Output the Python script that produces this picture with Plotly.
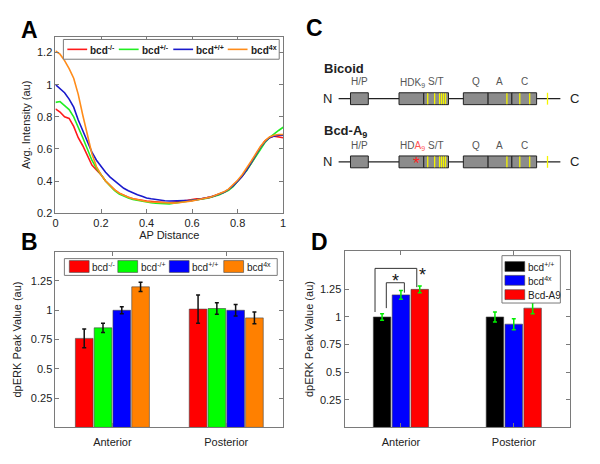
import plotly.graph_objects as go

FONT = "Liberation Sans, Arial, sans-serif"
W, H = 600, 464

# ---- Panel A: average intensity profiles along AP axis ----
ap = [i / 50 for i in range(51)]
prof_red = [0.85, 0.83, 0.80, 0.79, 0.74, 0.67, 0.62, 0.56, 0.50, 0.47, 0.44, 0.40, 0.37, 0.345, 0.325, 0.31, 0.30,
            0.29, 0.283, 0.28, 0.275, 0.272, 0.27, 0.268, 0.266, 0.265, 0.268, 0.27, 0.274, 0.28, 0.285, 0.29, 0.29,
            0.295, 0.30, 0.31, 0.318, 0.33, 0.345, 0.37, 0.40, 0.43, 0.47, 0.51, 0.56, 0.61, 0.65, 0.67, 0.68, 0.675, 0.67]
prof_green = [0.89, 0.895, 0.87, 0.845, 0.80, 0.74, 0.67, 0.60, 0.53, 0.48, 0.44, 0.40, 0.37, 0.34, 0.32, 0.305, 0.295,
              0.285, 0.28, 0.272, 0.27, 0.265, 0.262, 0.26, 0.26, 0.258, 0.262, 0.265, 0.27, 0.275, 0.28, 0.283, 0.287,
              0.292, 0.298, 0.305, 0.315, 0.328, 0.343, 0.365, 0.40, 0.43, 0.465, 0.51, 0.555, 0.60, 0.64, 0.67, 0.695,
              0.715, 0.735]
prof_blue = [1.0, 0.975, 0.95, 0.91, 0.86, 0.78, 0.71, 0.64, 0.58, 0.53, 0.49, 0.455, 0.425, 0.40, 0.375, 0.355, 0.34,
             0.325, 0.315, 0.305, 0.295, 0.29, 0.285, 0.282, 0.278, 0.276, 0.277, 0.275, 0.276, 0.278, 0.28, 0.284,
             0.288, 0.293, 0.30, 0.308, 0.318, 0.33, 0.348, 0.37, 0.40, 0.43, 0.47, 0.515, 0.56, 0.61, 0.645, 0.67,
             0.68, 0.685, 0.685]
prof_orange = [1.21, 1.19, 1.15, 1.10, 1.04, 0.94, 0.81, 0.68, 0.57, 0.49, 0.44, 0.40, 0.37, 0.345, 0.325, 0.31, 0.30,
               0.29, 0.283, 0.278, 0.273, 0.27, 0.268, 0.265, 0.263, 0.262, 0.263, 0.265, 0.268, 0.272, 0.277, 0.282,
               0.287, 0.293, 0.30, 0.31, 0.32, 0.333, 0.35, 0.375, 0.405, 0.44, 0.48, 0.525, 0.57, 0.615, 0.65, 0.675,
               0.685, 0.69, 0.69]
a_names = ["bcd<sup>-/-</sup>", "bcd<sup>+/-</sup>", "bcd<sup>+/+</sup>", "bcd<sup>4x</sup>"]
a_colors = ["#ff1a1a", "#22ee22", "#1a1acc", "#ff8c1a"]

# ---- Panel B: dpERK peak values ----
regions = ["Anterior", "Posterior"]
b_names = ["bcd<sup>-/-</sup>", "bcd<sup>-/+</sup>", "bcd<sup>+/+</sup>", "bcd<sup>4x</sup>"]
b_colors = ["#ff0000", "#00ff00", "#0000ff", "#ff8000"]
b_vals = [[0.76, 1.01], [0.85, 1.015], [1.0, 1.0], [1.2, 0.935]]
b_err = [[0.08, 0.12], [0.04, 0.05], [0.03, 0.05], [0.04, 0.05]]

# ---- Panel D ----
d_names = ["bcd<sup>+/+</sup>", "bcd<sup>4x</sup>", "Bcd-A9"]
d_colors = ["#000000", "#0000ff", "#ff0000"]
d_vals = [[1.0, 1.0], [1.2, 0.935], [1.25, 1.08]]
d_err = [[0.03, 0.045], [0.04, 0.05], [0.03, 0.05]]

# ---- Panel C: protein domain diagram ----
proteins = ["Bicoid", "Bcd-A<sub>9</sub>"]
dom_start = [351, 400, 425, 465, 490, 514]
dom_end = [369, 425, 450, 490, 514, 539]
dom_labels = ["H/P", "S/T", "Q", "A", "C"]
dom_label_x = [360, 437, 478, 502, 527]
stripes = [429, 436, 441, 443, 445, 447, 509, 522, 532]

fig = go.Figure()

for i in range(4):
    fig.add_trace(go.Scatter(x=ap, y=[prof_red, prof_green, prof_blue, prof_orange][i], mode="lines",
                             name=a_names[i], line=dict(color=a_colors[i], width=1.6),
                             xaxis="x", yaxis="y", showlegend=False))

xpos = [1, 2]
for i in range(4):
    fig.add_trace(go.Bar(x=xpos, y=b_vals[i], name=b_names[i], width=0.155, offset=-0.325 + i * 0.165,
                         marker=dict(color=b_colors[i], line=dict(color="#444", width=0.6)),
                         error_y=dict(type="data", array=b_err[i], color="#111", thickness=1.5, width=2),
                         xaxis="x2", yaxis="y2", showlegend=False))

for i in range(3):
    fig.add_trace(go.Bar(x=xpos, y=d_vals[i], name=d_names[i], width=0.155, offset=-0.245 + i * 0.167,
                         marker=dict(color=d_colors[i], line=dict(color="#444", width=0.6)),
                         error_y=dict(type="data", array=d_err[i], color="#00ee00", thickness=1.5, width=2),
                         xaxis="x3", yaxis="y3", showlegend=False))


def box_axis(**kw):
    d = dict(showline=True, linecolor="#7a7a7a", linewidth=1, mirror="ticks", ticks="inside", ticklen=4,
             tickcolor="#7a7a7a", showgrid=False, zeroline=False, tickfont=dict(size=11, color="#222"))
    d.update(kw)
    return d


def px(x):
    return x / W


def py(y):
    return 1 - y / H


shapes = []
ann = []


def legend_box(x0, x1, y0, y1):
    shapes.append(dict(type="rect", xref="paper", yref="paper", x0=px(x0), x1=px(x1), y0=py(y1), y1=py(y0),
                       fillcolor="white", line=dict(color="#7a7a7a", width=1), layer="above"))


def legend_text(x, y, text, size=10):
    ann.append(dict(x=px(x), y=py(y), xref="paper", yref="paper", text=text, showarrow=False,
                    xanchor="left", yanchor="middle", font=dict(size=size, color="#222")))


# legend A (horizontal, line samples)
legend_box(61, 279, 40, 60)
for i, x0 in enumerate([65, 117, 172, 227]):
    shapes.append(dict(type="line", xref="paper", yref="paper", x0=px(x0), x1=px(x0 + 20), y0=py(50), y1=py(50),
                       line=dict(color=a_colors[i], width=1.6), layer="above"))
    legend_text(x0 + 21, 51, "<b>" + a_names[i] + "</b>", 10)

# legend B (horizontal, bar swatches)
legend_box(62, 277, 262, 279)
for i, x0 in enumerate([67, 116, 168, 223]):
    shapes.append(dict(type="rect", xref="paper", yref="paper", x0=px(x0), x1=px(x0 + 20), y0=py(276), y1=py(264),
                       fillcolor=b_colors[i], line=dict(color="#444", width=0.6), layer="above"))
    legend_text(x0 + 21, 271, b_names[i], 10)

# legend D (vertical, bar swatches)
legend_box(504, 563, 259, 307)
for i, yc in enumerate([270, 284, 298.5]):
    shapes.append(dict(type="rect", xref="paper", yref="paper", x0=px(507), x1=px(527), y0=py(yc + 5),
                       y1=py(yc - 5), fillcolor=d_colors[i], line=dict(color="#444", width=0.6), layer="above"))
    legend_text(528, yc + 0.5, d_names[i], 10)

# brackets for panel D
br_x0 = [0.77, 0.87]
br_x1 = [1.14, 1.03]
br_y0 = [1.045, 1.08]
br_y1 = [1.27, 1.22]
br_top = [1.44, 1.31]
star_x = [1.19, 0.95]
star_y = [1.38, 1.33]
for k in range(2):
    shapes.append(dict(type="path", xref="x3", yref="y3",
                       path=f"M {br_x0[k]},{br_y0[k]} L {br_x0[k]},{br_top[k]} L {br_x1[k]},{br_top[k]} L {br_x1[k]},{br_y1[k]}",
                       line=dict(color="#333", width=1)))
    ann.append(dict(x=star_x[k], y=star_y[k], xref="x3", yref="y3", text="*", showarrow=False,
                    xanchor="center", yanchor="middle", font=dict(size=18, color="#111")))

# panel C diagram (drawn in x4/y4 pixel-like coordinates)
row_y = [100, 164]
for r in range(2):
    y = row_y[r]
    ann.append(dict(x=322, y=y - 31, xref="x4", yref="y4", text="<b>" + proteins[r] + "</b>", showarrow=False,
                    xanchor="left", yanchor="middle", font=dict(size=13, color="#222")))
    shapes.append(dict(type="line", xref="x4", yref="y4", x0=339, x1=563, y0=y, y1=y,
                       line=dict(color="#222", width=1.2)))
    for s, e in zip(dom_start, dom_end):
        shapes.append(dict(type="rect", xref="x4", yref="y4", x0=s, x1=e, y0=y - 6, y1=y + 6,
                           fillcolor="#8c8c8c", line=dict(color="#222", width=1)))
    for sx in stripes:
        shapes.append(dict(type="line", xref="x4", yref="y4", x0=sx, x1=sx, y0=y - 5.5, y1=y + 5.5,
                           line=dict(color="#f5f500", width=1.3)))
    shapes.append(dict(type="line", xref="x4", yref="y4", x0=550, x1=550, y0=y - 6, y1=y + 6,
                       line=dict(color="#f5f500", width=1.3)))
    ann.append(dict(x=328, y=y, xref="x4", yref="y4", text="N", showarrow=False,
                    yanchor="middle", font=dict(size=13, color="#222")))
    ann.append(dict(x=577, y=y, xref="x4", yref="y4", text="C", showarrow=False,
                    yanchor="middle", font=dict(size=13, color="#222")))
    for lab, lx in zip(dom_labels, dom_label_x):
        ann.append(dict(x=lx, y=y - 17, xref="x4", yref="y4", text=lab, showarrow=False,
                        xanchor="center", yanchor="middle", font=dict(size=10, color="#555")))
    hd = "HDK<sub>9</sub>" if r == 0 else "HD<span style='color:#ff5555'>A<sub>9</sub></span>"
    ann.append(dict(x=399, y=y - 16, xref="x4", yref="y4", text=hd, showarrow=False, xanchor="left",
                    yanchor="middle", font=dict(size=10, color="#555")))
ann.append(dict(x=418, y=row_y[1] + 2, xref="x4", yref="y4", text="*", showarrow=False,
                xanchor="center", yanchor="middle", font=dict(size=17, color="#ff2020")))

# panel letters
for lab, lx, ly in [("A", 27, 30), ("B", 27, 245), ("C", 315, 28), ("D", 320, 245)]:
    ann.append(dict(x=px(lx), y=py(ly), xref="paper", yref="paper", text="<b>" + lab + "</b>",
                    showarrow=False, xanchor="center", yanchor="middle",
                    font=dict(size=23, color="#000", family="Liberation Sans, Arial")))

fig.update_layout(
    width=W, height=H, margin=dict(l=0, r=0, t=0, b=0),
    paper_bgcolor="white", plot_bgcolor="white",
    font=dict(family=FONT, size=11, color="#222"),
    barmode="overlay", showlegend=False,
    xaxis=box_axis(domain=[px(53), px(283)], anchor="y", range=[0, 1], tickvals=[0, 0.2, 0.4, 0.6, 0.8, 1],
                   ticktext=["0", "0.2", "0.4", "0.6", "0.8", "1"],
                   title=dict(text="AP Distance", font=dict(size=11), standoff=2)),
    yaxis=box_axis(domain=[py(216), py(37)], anchor="x", range=[0.2, 1.3],
                   tickvals=[0.2, 0.4, 0.6, 0.8, 1, 1.2], ticktext=["0.2", "0.4", "0.6", "0.8", "1", "1.2"],
                   title=dict(text="Avg. Intensity (au)", font=dict(size=11), standoff=4)),
    xaxis2=box_axis(domain=[px(53), px(283)], anchor="y2", range=[0.5, 2.5], tickvals=xpos, ticktext=regions,
                    ticklabelstandoff=4),
    yaxis2=box_axis(domain=[py(433), py(255)], anchor="x2", range=[0, 1.5],
                    tickvals=[0.25, 0.5, 0.75, 1, 1.25], ticktext=["0.25", "0.5", "0.75", "1", "1.25"],
                    title=dict(text="dpERK Peak Value (au)", font=dict(size=11), standoff=6)),
    xaxis3=box_axis(domain=[px(345), px(573)], anchor="y3", range=[0.5, 2.5], tickvals=xpos, ticktext=regions,
                    ticklabelstandoff=4),
    yaxis3=box_axis(domain=[py(433), py(254)], anchor="x3", range=[0, 1.6],
                    tickvals=[0.25, 0.5, 0.75, 1, 1.25], ticktext=["0.25", "0.5", "0.75", "1", "1.25"],
                    title=dict(text="dpERK Peak Value (au)", font=dict(size=11), standoff=4)),
    xaxis4=dict(domain=[0.5, 1], anchor="y4", range=[300, 600], visible=False, fixedrange=True),
    yaxis4=dict(domain=[py(232), 1], anchor="x4", range=[232, 0], visible=False, fixedrange=True),
    shapes=shapes, annotations=ann,
)

fig.write_html("out.html", config={"displayModeBar": False}, post_script="document.body.style.margin='0';")
